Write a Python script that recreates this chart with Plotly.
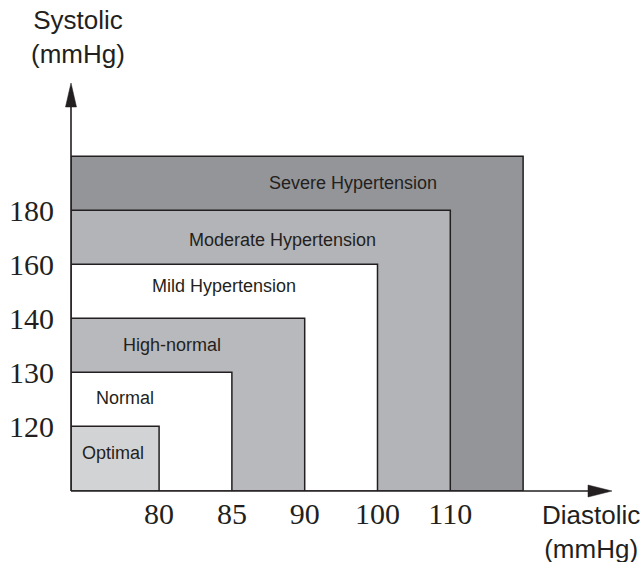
import plotly.graph_objects as go

# ---- data ----
categories = ["Optimal", "Normal", "High-normal", "Mild Hypertension",
              "Moderate Hypertension", "Severe Hypertension"]
diastolic_upper = [80, 85, 90, 100, 110, None]   # mmHg (None = open-ended)
systolic_upper = [120, 130, 140, 160, 180, None]  # mmHg
diastolic_ticks = ["80", "85", "90", "100", "110"]
systolic_ticks = ["120", "130", "140", "160", "180"]

# ---- styles ----
fills = ["#d2d3d5", "#ffffff", "#b8b9bc", "#ffffff", "#b3b4b7", "#939598"]
label_pos = [(0.37, 0.5), (0.53, 1.52), (1.18, 2.5), (1.89, 3.6),
             (2.69, 4.45), (3.66, 5.5)]
ink = "#231f20"
X0, X1 = -0.21, 7.221
Y0, Y1 = -0.2, 7.356

# category band index on the (ordinal) axes: each threshold is one step
xpos = [i + 1 for i in range(len(diastolic_upper))]
ypos = [i + 1 for i in range(len(systolic_upper))]

fig = go.Figure()

# draw from largest to smallest so inner ones sit on top
for i in reversed(range(len(categories))):
    xr, yr = xpos[i], ypos[i]
    fig.add_trace(go.Scatter(
        x=[X0, xr, xr, X0, X0], y=[Y0, Y0, yr, yr, Y0],
        mode="lines", fill="toself", fillcolor=fills[i],
        line=dict(color=ink, width=1.5), hoverinfo="skip", showlegend=False,
    ))

for name, (lx, ly) in zip(categories, label_pos):
    fig.add_annotation(x=lx, y=ly, text=name, showarrow=False,
                       xanchor="center", yanchor="middle",
                       font=dict(family="Liberation Sans", size=18, color=ink))

# axis lines with arrows (paper refs so they are not clipped)
fig.add_shape(type="line", xref="paper", yref="paper", x0=0, x1=0, y0=0, y1=0.97,
              line=dict(color=ink, width=1.6))
fig.add_shape(type="line", xref="paper", yref="paper", x0=0, x1=0.97, y0=0, y1=0,
              line=dict(color=ink, width=1.6))
fig.add_shape(type="path", xref="paper", yref="paper", xsizemode="pixel", ysizemode="pixel",
              xanchor=0, yanchor=1, path="M -5.5,-24 L 0,0 L 5.5,-24 Z",
              fillcolor=ink, line=dict(color=ink, width=0.5))
fig.add_shape(type="path", xref="paper", yref="paper", xsizemode="pixel", ysizemode="pixel",
              xanchor=1, yanchor=0, path="M -24,-6 L 0,0 L -24,6 Z",
              fillcolor=ink, line=dict(color=ink, width=0.5))

# axis titles
fig.add_annotation(xref="paper", yref="paper", x=0.013, y=1.113,
                   text="Systolic<br>(mmHg)", showarrow=False,
                   xanchor="center", yanchor="middle",
                   font=dict(family="Liberation Sans", size=26, color=ink))
fig.add_annotation(xref="paper", yref="paper", x=0.961, y=-0.101,
                   text="Diastolic<br>(mmHg)", showarrow=False,
                   xanchor="center", yanchor="middle",
                   font=dict(family="Liberation Sans", size=26, color=ink))

fig.update_xaxes(range=[X0, X1], tickvals=xpos[:5], ticktext=diastolic_ticks,
                 showgrid=False, zeroline=False, showline=False, ticks="",
                 ticklabelstandoff=2, automargin=False,
                 tickfont=dict(family="Liberation Serif", size=30, color=ink))
fig.update_yaxes(range=[Y0, Y1], tickvals=ypos[:5], ticktext=systolic_ticks,
                 showgrid=False, zeroline=False, showline=False, ticks="",
                 ticklabelstandoff=16, automargin=False,
                 tickfont=dict(family="Liberation Serif", size=30, color=ink))

fig.update_layout(width=642, height=562,
                  margin=dict(l=71, r=30, t=83, b=71),
                  paper_bgcolor="white", plot_bgcolor="white")

# remove the browser's default 8px body margin so the figure fills the window
fig.write_html("out.html",
               config={"displayModeBar": False},
               post_script="document.body.style.margin='0';"
                           "document.body.style.overflow='hidden';")
